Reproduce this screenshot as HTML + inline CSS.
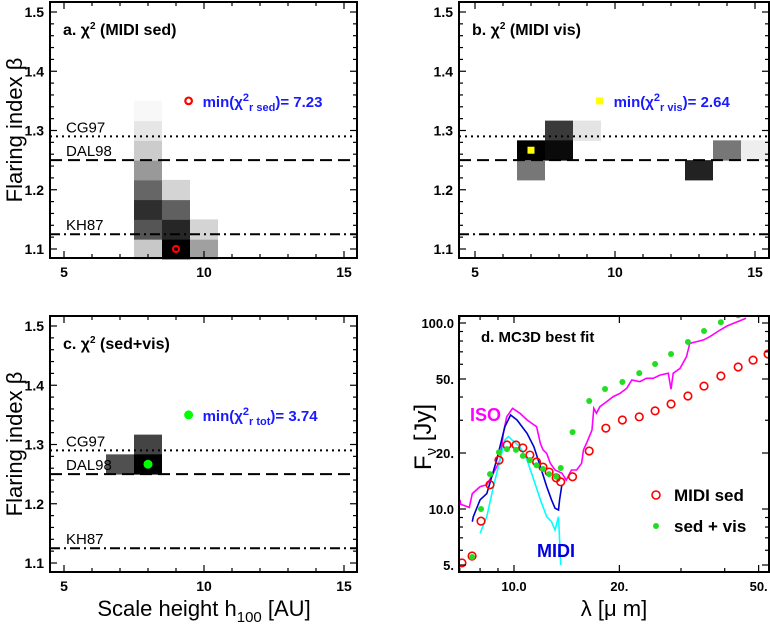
<!DOCTYPE html>
<html><head><meta charset="utf-8"><style>
html,body{margin:0;padding:0;background:#fff;}
svg{display:block;font-family:"Liberation Sans",sans-serif;}
</style></head><body>
<svg id="fig" width="770" height="626" viewBox="0 0 770 626" xmlns="http://www.w3.org/2000/svg"></svg>
<script>
// ---- Panel a data (h, beta, gray level 0=black..255=white)
const aH = [8,8,8,8,8,8,8,8,9,9,9,9,10,10];
const aB = [1.1,1.1333,1.1667,1.2,1.2333,1.2667,1.3,1.3333,1.1,1.1333,1.1667,1.2,1.1,1.1333];
const aG = [200,85,46,102,153,204,230,248,0,38,96,212,160,212];
const aMin = [9,1.1];
// ---- Panel b data
const bH = [7,7,8,8,9,13,14,15];
const bB = [1.2667,1.2333,1.3,1.2667,1.3,1.2333,1.2667,1.2667];
const bG = [0,119,58,10,228,34,119,238];
const bMin = [7,1.2667];
// ---- Panel c data
const cH = [7,8,8];
const cB = [1.2667,1.3,1.2667];
const cG = [80,68,0];
const cMin = [8,1.2667];
// reference lines
const refNames = ["CG97","DAL98","KH87"];
const refBeta = [1.29,1.25,1.125];
const refDash = ["2,4","12,6","10,4,2,4"];
// ---- Panel d data
const sedLam = [7.10,7.59,8.05,8.54,9.06,9.55,10.13,10.6,11.1,11.6,12.1,12.6,13.2,13.6,14.7,16.4,18.3,20.4,22.8,25.3,28.1,31.4,34.9,39.0,43.7,48.2,53.2];
const sedF = [5.13,5.59,8.61,13.5,18.3,22.1,22.1,21.3,19.5,17.9,16.8,15.8,14.7,14.0,14.9,20.5,27.2,30.1,31.3,33.7,36.7,40.5,45.8,51.9,58.0,63.2,68.1];
const visLam = [7.59,8.05,8.54,9.06,9.55,10.13,10.6,11.1,11.6,12.1,12.6,13.2,13.6,14.7,16.4,18.2,20.4,22.8,25.3,28.1,31.4,34.9,39.0,43.7,48.2,53.2];
const visF = [5.52,10.0,15.4,20.2,21.0,20.8,19.3,18.3,17.2,16.4,15.4,14.9,16.6,25.9,38.1,44.2,48.2,53.8,60.2,68.1,79.1,90.6,101,110,117,122];
const isoLam = [7.01,7.04,7.45,7.60,8.00,8.36,8.73,9.12,9.32,9.53,9.91,10.4,10.9,11.6,11.9,12.1,12.4,12.7,13.1,13.7,14.1,14.6,15.1,15.6,15.8,16.1,16.7,16.9,17.2,17.6,18.4,19.2,20.1,21.0,21.7,22.9,23.9,25.0,26.1,27.6,28.1,28.5,29.8,31.1,31.8,33.3,34.8,36.3,38.8,40.6,42.4,44.3,46.0];
const isoF = [11.2,10.6,10.2,12.1,13.2,13.5,15.6,18.3,25.5,31.3,34.8,32.7,30.1,27.7,22.5,20.8,19.9,17.6,16.2,15.6,14.3,16.2,16.2,17.6,20.8,22.5,26.6,34.8,32.7,35.5,37.8,40.2,41.9,44.6,49.4,48.4,50.4,50.4,52.5,53.7,44.0,53.7,57.0,65.9,77.8,79.4,81.1,84.5,91.7,96.4,99.6,103,106];
const midiLam = [7.60,7.65,8.00,8.36,8.92,9.42,9.78,10.2,10.9,11.4,11.9,12.4,12.8,13.1,13.4,13.5,13.7];
const midiF = [8.55,9.09,11.2,12.1,18.3,27.7,32.0,30.1,25.5,21.6,16.9,13.2,11.2,10.1,9.88,11.2,13.5];
const cyanLam = [8.00,8.36,8.73,9.12,9.42,9.63,10.0,10.4,10.9,11.4,11.9,12.4,12.8,13.1,13.4,13.5,13.6];
const cyanF = [7.40,9.09,13.2,18.3,23.5,24.5,23.0,21.6,18.3,14.3,11.2,9.09,8.55,7.71,9.09,6.81,5.0];
const yTicks = [1.1,1.2,1.3,1.4,1.5];
const xTicks = [5,10,15];
const dYTicks = [5,10,20,50,100];
const dYLabels = ["5.","10.0","20.","50.","100.0"];
const dXTicks = [10,20,50];
const dXLabels = ["10.0","20.","50."];

const NS="http://www.w3.org/2000/svg";
const svg=document.getElementById('fig');
function el(tag,attrs,parent){const e=document.createElementNS(NS,tag);for(const k in attrs)e.setAttribute(k,attrs[k]);(parent||svg).appendChild(e);return e;}

function heatPanel(o){
  const g=el('g',{});
  
  
  const X=h=>o.x10+(h-10)*28;
  const Y=b=>o.y15+(1.5-b)*592.5;
  const L=o.left,R=o.right,T=o.top,B=o.bottom;
  el('rect',{x:L,y:T,width:R-L,height:B-T,fill:'#fff'},g);
  for(let i=0;i<o.H.length;i++){
    const v=o.G[i];
    const c=el('rect',{x:X(o.H[i]-0.5),y:Y(o.B[i]+1/60),width:28,height:592.5/30+0.5,fill:`rgb(${v},${v},${v})`},g);
    
    
  }
  for(let i=0;i<refBeta.length;i++){
    const ln=el('line',{x1:L,x2:R,y1:Y(refBeta[i]),y2:Y(refBeta[i]),stroke:'#000','stroke-width':2,'stroke-dasharray':refDash[i]},g);
    
    
    if(o.refLabels){
      const t=el('text',{x:L+16,y:Y(refBeta[i])-4,'font-size':15,fill:'#000'},g);
      t.textContent=refNames[i];
      
      
    }
  }
  for(let b=1.08;b<=1.52;b+=0.02){
    const bb=Math.round(b*100)/100;const y=Y(bb);if(y<T||y>B)continue;
    const major=Math.abs(bb*10-Math.round(bb*10))<1e-6;const len=major?7:4;
    el('line',{x1:L,x2:L+len,y1:y,y2:y,stroke:'#000','stroke-width':1.2},g);
    el('line',{x1:R,x2:R-len,y1:y,y2:y,stroke:'#000','stroke-width':1.2},g);
  }
  for(let h=4;h<=16;h++){
    const x=X(h);if(x<L||x>R)continue;const len=(h%5==0)?7:4;
    el('line',{x1:x,x2:x,y1:B,y2:B-len,stroke:'#000','stroke-width':1.2},g);
    el('line',{x1:x,x2:x,y1:T,y2:T+len,stroke:'#000','stroke-width':1.2},g);
  }
  yTicks.forEach(v=>{const t=el('text',{x:L-6,y:Y(v)+5,'font-size':14,'font-weight':'bold','text-anchor':'end'},g);t.textContent=v.toFixed(1);
    });
  xTicks.forEach(v=>{const t=el('text',{x:X(v),y:B+19,'font-size':14,'font-weight':'bold','text-anchor':'middle'},g);t.textContent=v;
    });
  el('rect',{x:L,y:T,width:R-L,height:B-T,fill:'none',stroke:'#000','stroke-width':2},g);
  const tt=el('text',{x:L+13,y:T+33,'font-size':16,'font-weight':'bold'},g);
  tt.innerHTML=o.title;
  
  const mx=X(o.min[0]),my=Y(o.min[1]);
  if(o.mark=='circle'){el('circle',{cx:mx,cy:my,r:3,fill:'none',stroke:'#f00','stroke-width':2.2},g);
    el('circle',{cx:X(9.45),cy:Y(1.35),r:3.3,fill:'none',stroke:'#f00','stroke-width':2.2},g);}
  else if(o.mark=='square'){el('rect',{x:mx-3.5,y:my-3.5,width:7,height:7,fill:'#ff0'},g);
    el('rect',{x:X(9.45)-3.5,y:Y(1.35)-3.5,width:7,height:7,fill:'#ff0'},g);}
  else {el('circle',{cx:mx,cy:my,r:4.5,fill:'#0f0'},g);el('circle',{cx:X(9.45),cy:Y(1.35),r:4.5,fill:'#0f0'},g);}
  const mt=el('text',{x:X(9.45)+14,y:Y(1.35)+6,'font-size':15,'font-weight':'bold',fill:'#1a1aff'},g);
  mt.innerHTML=o.minText;
  
}
heatPanel({name:'panel-a',H:aH,B:aB,G:aG,min:aMin,x10:204,y15:12,left:50,right:357,top:2,bottom:258,refLabels:true,mark:'circle',
  title:'a. χ<tspan font-size="10" dy="-6">2</tspan><tspan dy="6"> (MIDI sed)</tspan>',
  minText:'min(χ<tspan font-size="11" dy="-6">2</tspan><tspan font-size="11" dy="10">r sed</tspan><tspan dy="-4">)= 7.23</tspan>'});
heatPanel({name:'panel-b',H:bH,B:bB,G:bG,min:bMin,x10:615,y15:12,left:459,right:769,top:2,bottom:258,refLabels:false,mark:'square',
  title:'b. χ<tspan font-size="10" dy="-6">2</tspan><tspan dy="6"> (MIDI vis)</tspan>',
  minText:'min(χ<tspan font-size="11" dy="-6">2</tspan><tspan font-size="11" dy="10">r vis</tspan><tspan dy="-4">)= 2.64</tspan>'});
heatPanel({name:'panel-c',H:cH,B:cB,G:cG,min:cMin,x10:204,y15:326,left:50,right:357,top:316,bottom:572,refLabels:true,mark:'dot',
  title:'c. χ<tspan font-size="10" dy="-6">2</tspan><tspan dy="6"> (sed+vis)</tspan>',
  minText:'min(χ<tspan font-size="11" dy="-6">2</tspan><tspan font-size="11" dy="10">r tot</tspan><tspan dy="-4">)= 3.74</tspan>'});

function label(txt,attrs,name){const t=el('text',attrs);t.innerHTML=txt;}
label('Flaring index β',{x:0,y:0,'font-size':22,'text-anchor':'middle',transform:'translate(22,130) rotate(-90)'},'y-axis-title-a');
label('Flaring index β',{x:0,y:0,'font-size':22,'text-anchor':'middle',transform:'translate(22,444) rotate(-90)'},'y-axis-title-c');
label('Scale height h<tspan font-size="15" dy="6">100</tspan><tspan dy="-6"> [AU]</tspan>',{x:204,y:616,'font-size':22,'text-anchor':'middle'},'x-axis-title');
label('λ [μ m]',{x:614,y:616,'font-size':22,'text-anchor':'middle'},'x-axis-title-d');
label('F<tspan font-size="15" dy="5">ν</tspan><tspan dy="-5"> [Jy]</tspan>',{x:0,y:0,'font-size':24,'text-anchor':'middle',transform:'translate(431,437) rotate(-90)'},'y-axis-title-d');

(function(){
  const L=459,R=769,T=316,B=572;
  const X=l=>514+(Math.log10(l)-1)*350;
  const Y=f=>323+(2-Math.log10(f))*186;
  const g=el('g',{});
  
  
  const cp=el('clipPath',{id:'cpd'},g);el('rect',{x:L,y:T,width:R-L,height:B-T},cp);
  const pg=el('g',{'clip-path':'url(#cpd)'},g);
  function line(lx,fy,col,w,name){
    const p=el('polyline',{points:lx.map((l,i)=>X(l).toFixed(1)+','+Y(fy[i]).toFixed(1)).join(' '),fill:'none',stroke:col,'stroke-width':w},pg);
    
  }
  line(isoLam,isoF,'#f0f','1.6','iso-spectrum');
  line(cyanLam,cyanF,'#0ff','1.6','midi-vis-spectrum');
  line(midiLam,midiF,'#0000d0','1.6','midi-spectrum');
  sedLam.forEach((l,i)=>{const c=el('circle',{cx:X(l),cy:Y(sedF[i]),r:3.8,fill:'none',stroke:'#f00','stroke-width':1.6},pg);
    });
  visLam.forEach((l,i)=>{const c=el('circle',{cx:X(l),cy:Y(visF[i]),r:3,fill:'#2d2'},pg);
    });
  const ylist=[5,6,7,8,9,10,20,30,40,50,60,70,80,90,100,110,120];
  ylist.forEach(v=>{const y=Y(v);if(y<T||y>B)return;const len=dYTicks.includes(v)?7:4;
    el('line',{x1:L,x2:L+len,y1:y,y2:y,stroke:'#000','stroke-width':1.2},g);el('line',{x1:R,x2:R-len,y1:y,y2:y,stroke:'#000','stroke-width':1.2},g);});
  const xlist=[7,8,9,10,20,30,40,50];
  xlist.forEach(v=>{const x=X(v);const len=dXTicks.includes(v)?7:4;
    el('line',{x1:x,x2:x,y1:B,y2:B-len,stroke:'#000','stroke-width':1.2},g);el('line',{x1:x,x2:x,y1:T,y2:T+len,stroke:'#000','stroke-width':1.2},g);});
  dYTicks.forEach((v,i)=>{const t=el('text',{x:L-5,y:Y(v)+5,'font-size':13,'font-weight':'bold','text-anchor':'end'},g);t.textContent=dYLabels[i];
    });
  dXTicks.forEach((v,i)=>{const t=el('text',{x:X(v),y:B+19,'font-size':13,'font-weight':'bold','text-anchor':'middle'},g);t.textContent=dXLabels[i];
    });
  el('rect',{x:L,y:T,width:R-L,height:B-T,fill:'none',stroke:'#000','stroke-width':2},g);
  label('d. MC3D best fit',{x:481,y:342,'font-size':15,'font-weight':'bold'},'panel-title-d');
  label('ISO',{x:470,y:421,'font-size':18,'font-weight':'bold',fill:'#f0f'},'iso-label');
  label('MIDI',{x:537,y:557,'font-size':18,'font-weight':'bold',fill:'#0000e0'},'midi-label');
  const l1=el('circle',{cx:656,cy:495,r:4,fill:'none',stroke:'#f00','stroke-width':1.6});
  
  label('MIDI sed',{x:674,y:501,'font-size':17,'font-weight':'bold'},'legend-entry-midi-sed');
  const l2=el('circle',{cx:656,cy:526,r:3,fill:'#2d2'});
  
  label('sed + vis',{x:674,y:532,'font-size':17,'font-weight':'bold'},'legend-entry-sed-vis');
})();
</script>
</body></html>
